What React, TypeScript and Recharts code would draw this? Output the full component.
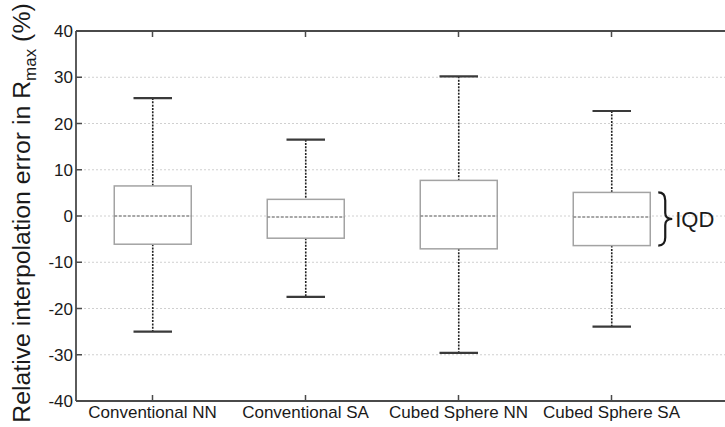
import React from "react";
import { ComposedChart, Bar, XAxis, YAxis, CartesianGrid } from "recharts";

const categories = ["Conventional NN", "Conventional SA", "Cubed Sphere NN", "Cubed Sphere SA"];
const whiskerLow = [-25.0, -17.5, -29.6, -23.9];
const q1 = [-6.1, -4.8, -7.1, -6.4];
const median = [0, -0.2, 0, -0.2];
const q3 = [6.5, 3.6, 7.7, 5.1];
const whiskerHigh = [25.5, 16.5, 30.2, 22.7];
const yTicks = [-40, -30, -20, -10, 0, 10, 20, 30, 40];
const braceLabel = "IQD";

const data = categories.map((name, i) => ({
    name,
    range: [whiskerLow[i], whiskerHigh[i]],
    low: whiskerLow[i],
    q1: q1[i],
    median: median[i],
    q3: q3[i],
    high: whiskerHigh[i],
}));

const FONT = "'Liberation Sans', Arial, sans-serif";
const AXIS = "#4a4a4a";

function BoxShape(props: any) {
    const { x, y, width, height, payload } = props;
    const top = Math.min(y, y + height);
    const h = Math.abs(height);
    const { low, high } = payload;
    const py = (v: number) => top + ((high - v) / (high - low)) * h;
    const cx = x + width / 2;
    const capHalf = width / 4;
    const right = x + width;

    return (
        <g>
            {/* whiskers */}
            <line x1={cx} x2={cx} y1={py(high)} y2={py(payload.q3)} stroke="#222" strokeWidth={1.6} strokeDasharray="2 1.3" />
            <line x1={cx} x2={cx} y1={py(payload.q1)} y2={py(low)} stroke="#222" strokeWidth={1.6} strokeDasharray="2 1.3" />
            {/* caps */}
            <line x1={cx - capHalf} x2={cx + capHalf} y1={py(high)} y2={py(high)} stroke="#3a3a3a" strokeWidth={2.2} />
            <line x1={cx - capHalf} x2={cx + capHalf} y1={py(low)} y2={py(low)} stroke="#3a3a3a" strokeWidth={2.2} />
            {/* box */}
            <rect
                x={x}
                y={py(payload.q3)}
                width={width}
                height={py(payload.q1) - py(payload.q3)}
                fill="#fff"
                stroke="#a3a3a3"
                strokeWidth={1.5}
            />
            {/* median */}
            <line x1={x} x2={right} y1={py(payload.median)} y2={py(payload.median)} stroke="#8a8a8a" strokeWidth={1.5} strokeDasharray="3 1.5" />

            {/* IQD annotation on the last box */}
            {payload.name === "Cubed Sphere SA" && (() => {
                const t = py(payload.q3);
                const b = py(payload.q1);
                const m = (t + b) / 2;
                const x0 = right + 8;
                const d = `M ${x0} ${t} Q ${x0 + 7} ${t} ${x0 + 7} ${t + 8} L ${x0 + 7} ${m - 6} Q ${x0 + 7} ${m} ${x0 + 14} ${m} Q ${x0 + 7} ${m} ${x0 + 7} ${m + 6} L ${x0 + 7} ${b - 8} Q ${x0 + 7} ${b} ${x0} ${b}`;
                return (
                    <g>
                        <path d={d} fill="none" stroke="#1a1a1a" strokeWidth={2.2} />
                        <text x={x0 + 17} y={m + 8} fontSize={22} fontFamily={FONT} fill="#1a1a1a">
                            {braceLabel}
                        </text>
                    </g>
                );
            })()}
        </g>
    );
}

function BottomTick(props: any) {
    const { x, y, payload } = props;
    return (
        <g>
            <line x1={x} x2={x} y1={y} y2={y - 6} stroke={AXIS} strokeWidth={1.5} />
            <text x={x} y={y + 17} textAnchor="middle" fontSize={17} fontFamily={FONT} fill="#1a1a1a">
                {payload.value}
            </text>
        </g>
    );
}

function TopTick(props: any) {
    const { x, y } = props;
    return <line x1={x} x2={x} y1={y} y2={y + 6} stroke={AXIS} strokeWidth={1.5} />;
}

function LeftTick(props: any) {
    const { x, y, payload } = props;
    return (
        <g>
            <line x1={x} x2={x + 6} y1={y} y2={y} stroke={AXIS} strokeWidth={1.5} />
            <text x={x - 3} y={y + 6} textAnchor="end" fontSize={17} fontFamily={FONT} fill="#1a1a1a">
                {payload.value}
            </text>
        </g>
    );
}

function YLabel(props: any) {
    const vb = props.viewBox || { x: 0, y: 0, height: 0 };
    const cx = vb.x + 30;
    const cy = vb.y + vb.height / 2 - 3;
    return (
        <text
            x={cx}
            y={cy}
            transform={`rotate(-90 ${cx} ${cy})`}
            textAnchor="middle"
            fontSize={24.8}
            fontFamily={FONT}
            fill="#1a1a1a"
        >
            Relative interpolation error in R
            <tspan fontSize={17} dy={6}>max</tspan>
            <tspan dy={-6}> (%)</tspan>
        </text>
    );
}

export default function App() {
    return (
        <div style={{ position: "absolute", left: 0, top: 0, width: 725, height: 427, background: "#fff" }}>
            <ComposedChart
                width={725}
                height={427}
                data={data}
                margin={{ top: 0, right: 0, bottom: 0, left: 0 }}
                barCategoryGap="25%"
            >
                <CartesianGrid vertical={false} stroke="#d0d0d0" strokeDasharray="2 2" />
                <XAxis
                    dataKey="name"
                    height={26}
                    padding={{ left: 0, right: 37 }}
                    axisLine={{ stroke: AXIS, strokeWidth: 1.8 }}
                    tickLine={false}
                    tickSize={0}
                    tickMargin={0}
                    tick={<BottomTick />}
                    interval={0}
                />
                <XAxis
                    xAxisId="top"
                    orientation="top"
                    dataKey="name"
                    height={31}
                    padding={{ left: 0, right: 37 }}
                    axisLine={{ stroke: AXIS, strokeWidth: 1.8 }}
                    tickLine={false}
                    tickSize={0}
                    tickMargin={0}
                    tick={<TopTick />}
                    interval={0}
                />
                <YAxis
                    type="number"
                    domain={[-40, 40]}
                    ticks={yTicks}
                    width={76}
                    axisLine={{ stroke: AXIS, strokeWidth: 1.8 }}
                    tickLine={false}
                    tickSize={0}
                    tickMargin={0}
                    tick={<LeftTick />}
                    interval={0}
                    label={<YLabel />}
                />
                <Bar dataKey="range" shape={<BoxShape />} isAnimationActive={false} />
            </ComposedChart>
        </div>
    );
}
